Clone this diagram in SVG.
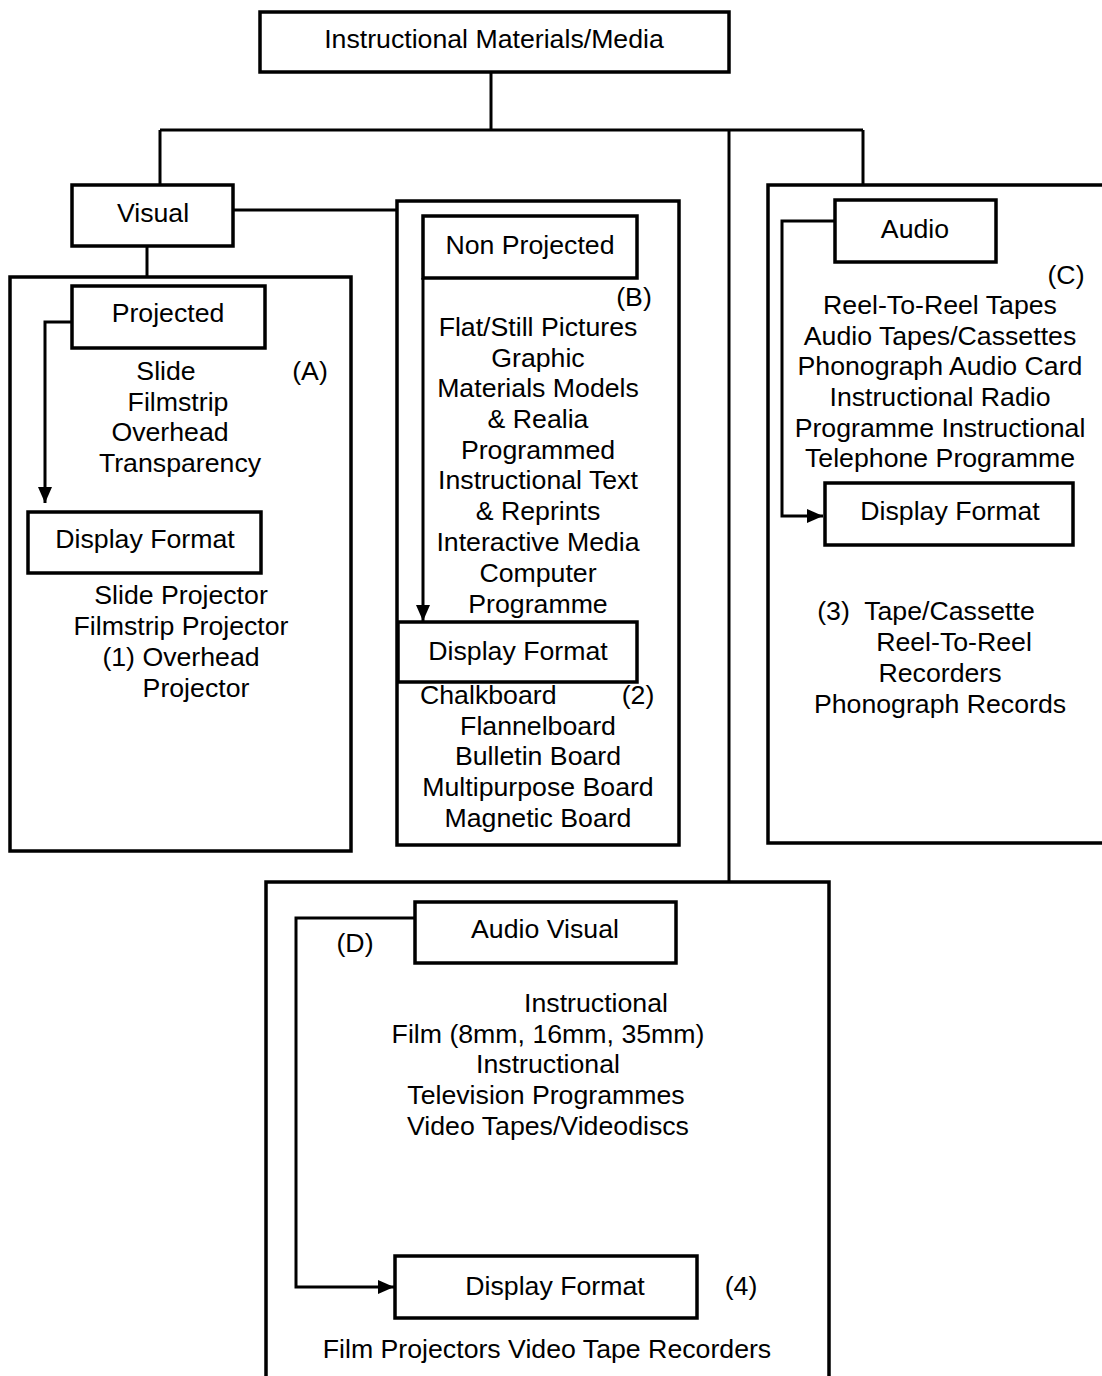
<svg xmlns="http://www.w3.org/2000/svg" width="1102" height="1376" viewBox="0 0 1102 1376">
  <style>
    .box { fill: none; stroke: #000; stroke-width: 3.5; }
    .wire { fill: none; stroke: #000; stroke-width: 3; }
    text { font-family: "Liberation Sans", Arial, sans-serif; font-size: 26.7px; fill: #000; }
    .c { text-anchor: middle; }
  </style>
  <defs>
    <marker id="arrow" markerWidth="16" markerHeight="14" refX="16" refY="7" orient="auto" markerUnits="userSpaceOnUse" viewBox="0 0 16 14">
      <path d="M0,0 L16,7 L0,14 Z" fill="#000"/>
    </marker>
  </defs>
  <rect width="1102" height="1376" fill="#fff"/>

  <!-- connectors -->
  <g id="connectors">
    <path class="wire" d="M491,72 V130"/>
    <path class="wire" d="M160,130 H863"/>
    <path class="wire" d="M160,130 V185"/>
    <path class="wire" d="M729,130 V882"/>
    <path class="wire" d="M863,130 V185"/>
    <path class="wire" d="M233,210 H397"/>
    <path class="wire" d="M147,246 V277"/>
    <path class="wire" d="M72,322 H45 V503" marker-end="url(#arrow)"/>
    <path class="wire" d="M423,278 V621" marker-end="url(#arrow)"/>
    <path class="wire" d="M835,221 H782 V516 H823" marker-end="url(#arrow)"/>
    <path class="wire" d="M415,918 H296 V1287 H394" marker-end="url(#arrow)"/>
  </g>

  <!-- root -->
  <g id="root">
    <rect class="box" x="260" y="12" width="469" height="60"/>
    <text class="c" x="494" y="48">Instructional Materials/Media</text>
  </g>

  <!-- visual -->
  <g id="visual">
    <rect class="box" x="72" y="185" width="161" height="61"/>
    <text class="c" x="153" y="222">Visual</text>
  </g>

  <!-- projected (A) -->
  <g id="projected-group">
    <rect class="box" x="10" y="277" width="341" height="574"/>
  </g>
  <g id="projected">
    <rect class="box" x="72" y="286" width="193" height="62"/>
    <text class="c" x="168" y="322">Projected</text>
  </g>
  <g id="projected-items">
    <text class="c" x="166" y="380">Slide</text>
    <text class="c" x="178" y="411">Filmstrip</text>
    <text class="c" x="170" y="441">Overhead</text>
    <text class="c" x="180" y="472">Transparency</text>
    <text class="c" x="310" y="380">(A)</text>
  </g>
  <g id="projected-display">
    <rect class="box" x="28" y="512" width="233" height="61"/>
    <text class="c" x="145" y="548">Display Format</text>
  </g>
  <g id="projected-devices">
    <text class="c" x="181" y="604">Slide Projector</text>
    <text class="c" x="181" y="635">Filmstrip Projector</text>
    <text class="c" x="181" y="666">(1) Overhead</text>
    <text class="c" x="196" y="697">Projector</text>
  </g>

  <!-- non projected (B) -->
  <g id="nonprojected-group">
    <rect class="box" x="397" y="201" width="282" height="644"/>
  </g>
  <g id="nonprojected">
    <rect class="box" x="423" y="216" width="214" height="62"/>
    <text class="c" x="530" y="254">Non Projected</text>
  </g>
  <g id="nonprojected-items">
    <text class="c" x="634" y="306">(B)</text>
    <text class="c" x="538" y="336">Flat/Still Pictures</text>
    <text class="c" x="538" y="367">Graphic</text>
    <text class="c" x="538" y="397">Materials Models</text>
    <text class="c" x="538" y="428">&amp; Realia</text>
    <text class="c" x="538" y="459">Programmed</text>
    <text class="c" x="538" y="489">Instructional Text</text>
    <text class="c" x="538" y="520">&amp; Reprints</text>
    <text class="c" x="538" y="551">Interactive Media</text>
    <text class="c" x="538" y="582">Computer</text>
    <text class="c" x="538" y="613">Programme</text>
  </g>
  <g id="nonprojected-display">
    <rect class="box" x="398" y="622" width="239" height="60"/>
    <text class="c" x="518" y="660">Display Format</text>
  </g>
  <g id="nonprojected-devices">
    <text x="420" y="704">Chalkboard</text>
    <text class="c" x="638" y="704">(2)</text>
    <text class="c" x="538" y="735">Flannelboard</text>
    <text class="c" x="538" y="765">Bulletin Board</text>
    <text class="c" x="538" y="796">Multipurpose Board</text>
    <text class="c" x="538" y="827">Magnetic Board</text>
  </g>

  <!-- audio (C) -->
  <g id="audio-group">
    <path class="box" d="M1104,185 H768 V843 H1104"/>
  </g>
  <g id="audio">
    <rect class="box" x="835" y="200" width="161" height="62"/>
    <text class="c" x="915" y="238">Audio</text>
  </g>
  <g id="audio-items">
    <text class="c" x="1066" y="284">(C)</text>
    <text class="c" x="940" y="314">Reel-To-Reel Tapes</text>
    <text class="c" x="940" y="345">Audio Tapes/Cassettes</text>
    <text class="c" x="940" y="375">Phonograph Audio Card</text>
    <text class="c" x="940" y="406">Instructional Radio</text>
    <text class="c" x="940" y="437">Programme Instructional</text>
    <text class="c" x="940" y="467">Telephone Programme</text>
  </g>
  <g id="audio-display">
    <rect class="box" x="825" y="483" width="248" height="62"/>
    <text class="c" x="950" y="520">Display Format</text>
  </g>
  <g id="audio-devices">
    <text class="c" x="926" y="620" xml:space="preserve">(3)  Tape/Cassette</text>
    <text class="c" x="954" y="651">Reel-To-Reel</text>
    <text class="c" x="940" y="682">Recorders</text>
    <text class="c" x="940" y="713">Phonograph Records</text>
  </g>

  <!-- audio visual (D) -->
  <g id="audiovisual-group">
    <path class="box" d="M266,1378 V882 H829 V1378"/>
  </g>
  <g id="audiovisual">
    <rect class="box" x="415" y="902" width="261" height="61"/>
    <text class="c" x="545" y="938">Audio Visual</text>
    <text class="c" x="355" y="952">(D)</text>
  </g>
  <g id="audiovisual-items">
    <text class="c" x="596" y="1012">Instructional</text>
    <text class="c" x="548" y="1043">Film (8mm, 16mm, 35mm)</text>
    <text class="c" x="548" y="1073">Instructional</text>
    <text class="c" x="546" y="1104">Television Programmes</text>
    <text class="c" x="548" y="1135">Video Tapes/Videodiscs</text>
  </g>
  <g id="audiovisual-display">
    <rect class="box" x="395" y="1256" width="302" height="62"/>
    <text class="c" x="555" y="1295">Display Format</text>
    <text class="c" x="741" y="1295">(4)</text>
  </g>
  <g id="audiovisual-devices">
    <text class="c" x="547" y="1358">Film Projectors Video Tape Recorders</text>
  </g>
</svg>
